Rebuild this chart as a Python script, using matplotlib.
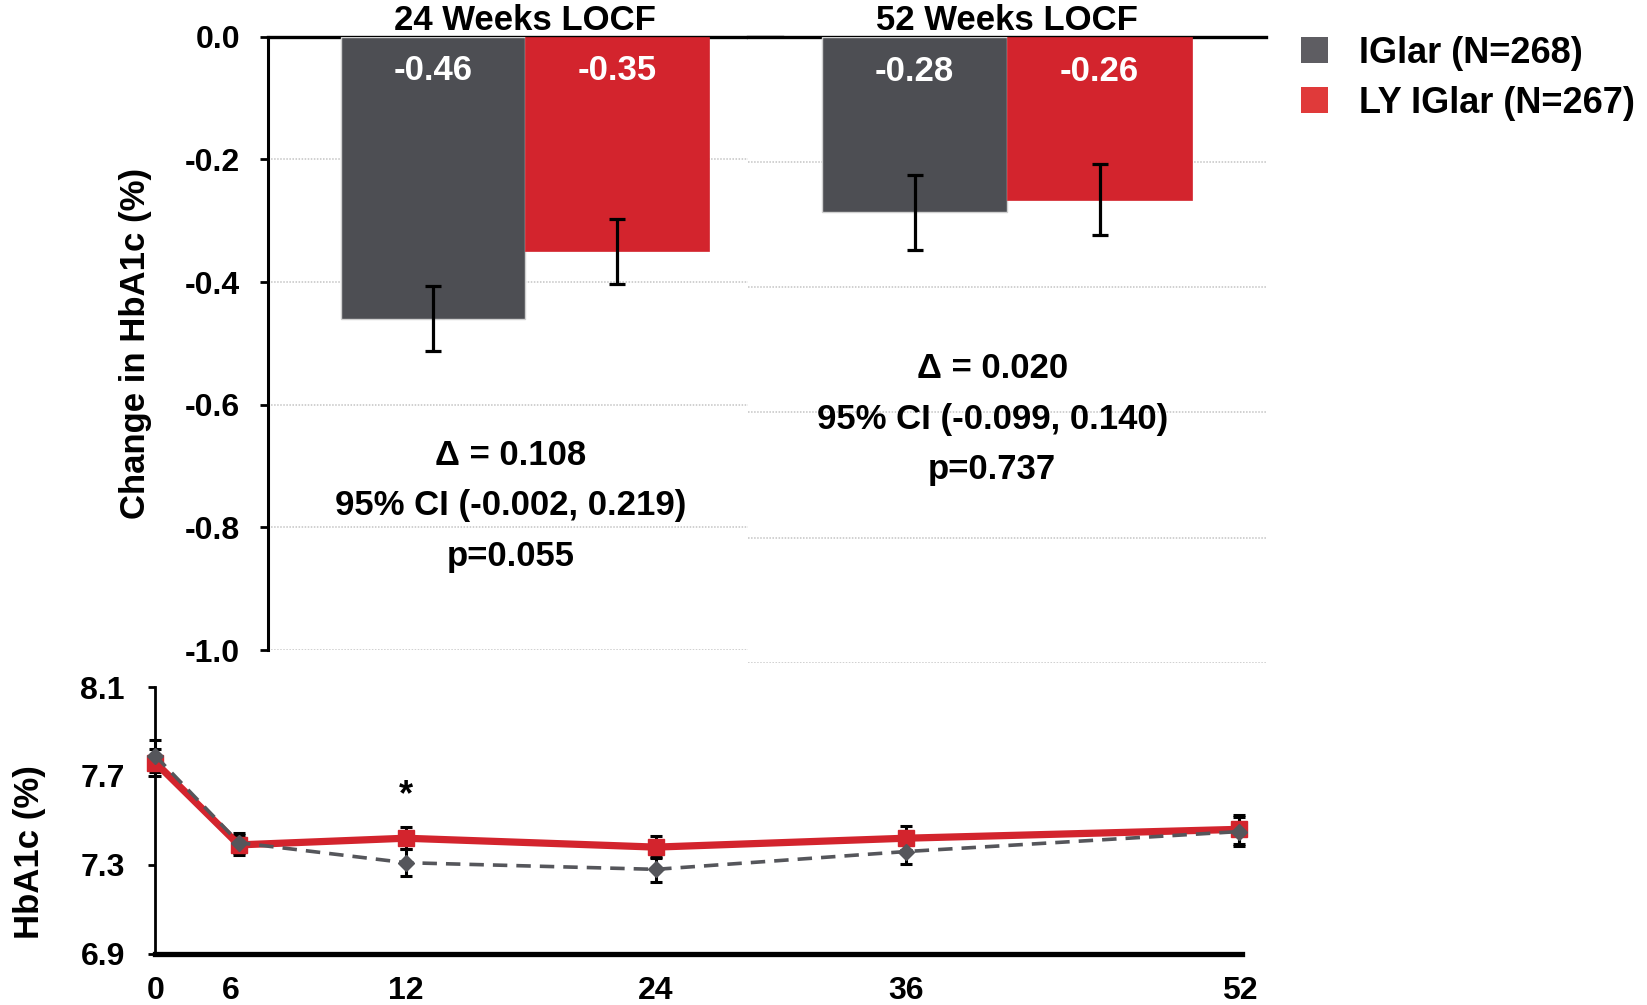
import matplotlib
matplotlib.use('Agg')
import matplotlib.pyplot as plt
from matplotlib.patches import Patch

plt.rcParams['font.family'] = ['Liberation Sans', 'DejaVu Sans']
plt.rcParams['font.weight'] = 'bold'

# bar panel data
groups = ['24 Weeks LOCF', '52 Weeks LOCF']
treatments = ['IGlar (N=268)', 'LY IGlar (N=267)']
change_iglar = [-0.46, -0.28]
change_ly = [-0.35, -0.26]
se_iglar = [0.053, 0.060]
se_ly = [0.053, 0.057]
stats_text = [
    ['\u0394 = 0.108', '95% CI (-0.002, 0.219)', 'p=0.055'],
    ['\u0394 = 0.020', '95% CI (-0.099, 0.140)', 'p=0.737'],
]

# time course data
weeks = [0, 6, 12, 24, 36, 52]
hba1c_iglar = [7.79, 7.40, 7.31, 7.28, 7.36, 7.45]
hba1c_ly = [7.76, 7.39, 7.42, 7.38, 7.42, 7.46]
err_iglar = [0.07, 0.045, 0.06, 0.055, 0.058, 0.065]
err_ly = [0.06, 0.045, 0.05, 0.05, 0.055, 0.065]
signif_weeks = [12]

GRAY = '#4d4e53'
RED = '#d3242d'
GRID = '#c4c4c4'

fig = plt.figure(figsize=(16.47, 10.05), dpi=100)

# two bar panels, drawn side by side (slightly different heights, as in the source)
ax_pos = [[0.1627, 0.3532, 0.3124, 0.6102],
          [0.4542, 0.3405, 0.3145, 0.6229]]
for i, name in enumerate(groups):
    ax = fig.add_axes(ax_pos[i])
    vals = [change_iglar[i], change_ly[i]]
    errs = [se_iglar[i], se_ly[i]]
    ax.bar([0], [vals[0]], width=1.0, color=GRAY, edgecolor='#d0d0d0',
           linewidth=1, zorder=3)
    ax.bar([1], [vals[1]], width=1.0, color=RED, edgecolor=RED,
           linewidth=0.5, zorder=3)
    ax.errorbar([0, 1], vals, yerr=errs, fmt='none', ecolor='black',
                elinewidth=2.3, capsize=5.5, capthick=2.3, zorder=4)
    for x, v in zip([0, 1], vals):
        ax.text(x, -0.055, f'{v:.2f}', color='white', ha='center',
                va='center', fontsize=25, fontweight='bold', zorder=5)
    ax.set_xlim(-0.9, 1.9)
    ax.set_ylim(-1.0, 0.0)
    ax.set_yticks([0.0, -0.2, -0.4, -0.6, -0.8, -1.0])
    ax.yaxis.grid(True, color=GRID, linestyle=(0, (1, 1)), linewidth=1.1,
                  zorder=0)
    ax.set_axisbelow(True)
    ax.set_xticks([])
    for s in ['right', 'bottom']:
        ax.spines[s].set_visible(False)
    ax.spines['top'].set_linewidth(2.4)
    if i == 0:
        ax.spines['left'].set_linewidth(2.2)
        ax.set_yticklabels([f'{t:.1f}' for t in ax.get_yticks()],
                           fontsize=23, fontweight='bold')
        ax.tick_params(axis='y', length=6, width=2, pad=14)
        ax.set_ylabel('Change in HbA1c (%)', fontsize=25, fontweight='bold',
                      labelpad=24)
    else:
        ax.spines['left'].set_visible(False)
        ax.tick_params(axis='y', length=0, labelleft=False)
    ax.set_title(name, fontsize=25, fontweight='bold', pad=2)
    for k, line in enumerate(stats_text[i]):
        ax.text(0.42, -0.683 - 0.082 * k if i == 0 else -0.53 - 0.081 * k,
                line, ha='center', va='center', fontsize=25,
                fontweight='bold')

# legend
handles = [Patch(facecolor='#5e5d62', edgecolor='none'),
           Patch(facecolor='#e03a3a', edgecolor='none')]
fig.legend(handles, treatments, loc='upper left',
           bbox_to_anchor=(0.781, 0.979), frameon=False, fontsize=26,
           handlelength=0.75, handleheight=0.75, handletextpad=0.85,
           labelspacing=0.42, borderaxespad=0)

# time course panel
x_pos = [0, 4, 12, 24, 36, 52]
ax2 = fig.add_axes([0.0944, 0.0509, 0.660, 0.2655])
ax2.errorbar(x_pos, hba1c_ly, yerr=err_ly, fmt='none', ecolor='black',
             elinewidth=2.2, capsize=4, capthick=2.2, zorder=2, clip_on=False)
ax2.errorbar(x_pos, hba1c_iglar, yerr=err_iglar, fmt='none', ecolor='black',
             elinewidth=2.2, capsize=4, capthick=2.2, zorder=2, clip_on=False)
ax2.plot(x_pos, hba1c_ly, color=RED, linewidth=5.2, marker='s',
         markersize=11, zorder=3, clip_on=False)
ax2.plot(x_pos, hba1c_iglar, color='#55565b', linewidth=2.6,
         linestyle=(0, (4, 2.5)), marker='D', markersize=8.5, zorder=4,
         clip_on=False)
for w in signif_weeks:
    k = weeks.index(w)
    ax2.text(x_pos[k], max(hba1c_ly[k], hba1c_iglar[k]) + 0.19, '*',
             ha='center', va='center', fontsize=26, fontweight='bold')
ax2.set_xlim(0, 52.15)
ax2.set_ylim(6.9, 8.1)
ax2.set_yticks([6.9, 7.3, 7.7, 8.1])
ax2.set_yticklabels(['6.9', '7.3', '7.7', '8.1'], fontsize=23,
                    fontweight='bold')
ax2.set_xticks([0, 3.6, 12, 24, 36, 52])
ax2.set_xticklabels([str(w) for w in weeks], fontsize=23, fontweight='bold')
ax2.tick_params(axis='y', length=5, width=2, pad=17)
ax2.tick_params(axis='x', length=0, pad=16)
for s in ['top', 'right']:
    ax2.spines[s].set_visible(False)
ax2.spines['left'].set_linewidth(2)
ax2.spines['bottom'].set_linewidth(3.8)
ax2.set_ylabel('HbA1c (%)', fontsize=25, fontweight='bold', labelpad=25,
               y=0.38)

fig.savefig('out.png', dpi=100)
